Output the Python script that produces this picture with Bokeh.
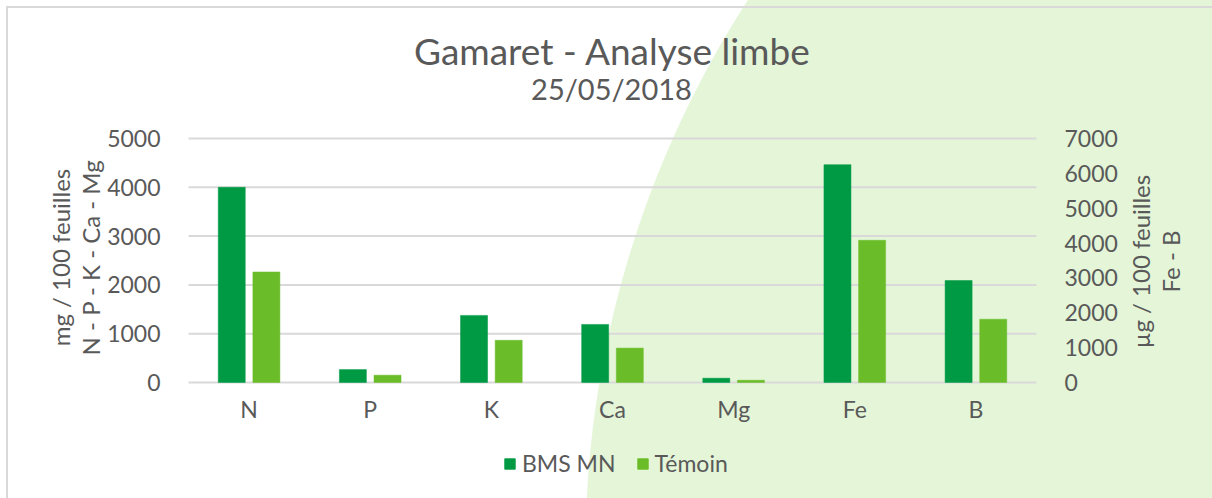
import numpy as np
from bokeh.plotting import figure
from bokeh.models import (ColumnDataSource, Range1d, LinearAxis, Legend, LegendItem,
                          FixedTicker, Label)
from bokeh.transform import dodge
from bokeh.embed import file_html
from bokeh.resources import INLINE

# ---- data ----
categories = ["N", "P", "K", "Ca", "Mg", "Fe", "B"]
bms_mn = [4000, 265, 1375, 1190, 88, 6250, 2925]
temoin = [2265, 150, 865, 705, 46, 4080, 1815]
axis_side = ["left", "left", "left", "left", "left", "right", "right"]
left_ticks = [0, 1000, 2000, 3000, 4000, 5000]
right_ticks = [0, 1000, 2000, 3000, 4000, 5000, 6000, 7000]
series_names = ["BMS MN", "Témoin"]
title_text = "Gamaret - Analyse limbe"
subtitle_text = "25/05/2018"
left_label = "mg / 100 feuilles\nN - P - K - Ca - Mg"
right_label = "µg / 100 feuilles\nFe - B"

FONT = "Lato"
GREY = "#595959"
DARK = "#009A44"
LIGHT = "#6ABD28"
PALE = "#E4F5D8"
RULE = "#D9D9D9"

# canvas geometry (pixels); the plot frame covers the whole canvas
W, H = 1212, 498
PL, PR, PT, PZ = 188, 1036, 138, 382   # plot-area left / right / top / zero row
n = len(categories)
cat_px = (PR - PL) / n
LEFT_MAX, RIGHT_MAX = left_ticks[-1], right_ticks[-1]
px_l = (PZ - PT) / LEFT_MAX
px_r = (PZ - PT) / RIGHT_MAX

bg_css = ("linear-gradient(%s,%s) 6px 6px / 2px 100%% no-repeat, "
          "linear-gradient(%s,%s) 6px 6px / 100%% 2px no-repeat, "
          "radial-gradient(circle 1013px at 1598px 550px, %s 1012px, #FFFFFF 1013px) "
          "0 0 / 100%% 100%% no-repeat, #FFFFFF") % (RULE, RULE, RULE, RULE, PALE)

p = figure(width=W, height=H,
           x_range=Range1d(-PL / cat_px, n + (W - PR) / cat_px),
           y_range=Range1d(-(H - PZ) / px_l, PZ / px_l),
           output_backend="svg", toolbar_location=None,
           min_border_left=0, min_border_right=0, min_border_top=0, min_border_bottom=0,
           background_fill_color=None, border_fill_color=None, outline_line_color=None,
           styles={"background": bg_css})
p.title.text = ""
p.title.standoff = 0
p.extra_y_ranges = {"right": Range1d(-(H - PZ) / px_r, PZ / px_r)}

left_idx = [i for i, s in enumerate(axis_side) if s == "left"]
right_idx = [i for i, s in enumerate(axis_side) if s == "right"]
src_l = ColumnDataSource(dict(pos=[i + 0.5 for i in left_idx],
                              bms=[bms_mn[i] for i in left_idx],
                              tem=[temoin[i] for i in left_idx]))
src_r = ColumnDataSource(dict(pos=[i + 0.5 for i in right_idx],
                              bms=[bms_mn[i] for i in right_idx],
                              tem=[temoin[i] for i in right_idx]))

# horizontal rules at the left-axis ticks (plot area only)
p.segment(x0=0, x1=n, y0=left_ticks, y1=left_ticks, line_color=RULE, line_width=2)

bw = 0.223
off = 0.143
r1 = p.vbar(x=dodge("pos", -off), top="bms", width=bw, source=src_l,
            fill_color=DARK, line_color=DARK, line_width=0.5)
r2 = p.vbar(x=dodge("pos", off), top="tem", width=bw, source=src_l,
            fill_color=LIGHT, line_color=LIGHT, line_width=0.5)
r3 = p.vbar(x=dodge("pos", -off), top="bms", width=bw, source=src_r,
            fill_color=DARK, line_color=DARK, line_width=0.5, y_range_name="right")
r4 = p.vbar(x=dodge("pos", off), top="tem", width=bw, source=src_r,
            fill_color=LIGHT, line_color=LIGHT, line_width=0.5, y_range_name="right")

def style_axis(ax):
    ax.axis_line_color = None
    ax.major_tick_line_color = None
    ax.minor_tick_line_color = None
    ax.major_label_text_font = FONT
    ax.major_label_text_font_size = "23px"
    ax.major_label_text_color = GREY

xa = p.xaxis[0]
style_axis(xa)
xa.ticker = FixedTicker(ticks=[i + 0.5 for i in range(n)])
xa.major_label_overrides = {i + 0.5: c for i, c in enumerate(categories)}
xa.fixed_location = 0
xa.major_label_standoff = 6

ya = p.yaxis[0]
style_axis(ya)
ya.ticker = FixedTicker(ticks=left_ticks)
ya.fixed_location = 0
ya.major_label_standoff = 22

ry = LinearAxis(y_range_name="right", ticker=FixedTicker(ticks=right_ticks))
style_axis(ry)
ry.fixed_location = n
ry.major_label_standoff = 22
p.add_layout(ry, "right")

p.xgrid.visible = False
p.ygrid.visible = False

# titles and axis titles
def add_text(text, x, y, size, angle=0.0):
    p.add_layout(Label(x=x, y=y, x_units="canvas", y_units="canvas", text=text,
                       angle=angle, text_align="center", text_baseline="middle",
                       text_font=FONT, text_font_size=size, text_color=GREY,
                       text_line_height=1.05))

add_text(title_text, 612, 50, "37px")
add_text(subtitle_text, 611, 88, "29px")
add_text(left_label, 75, 257, "24px", np.pi / 2)
add_text(right_label, 1155, 261, "24px", np.pi / 2)

legend = Legend(items=[LegendItem(label=series_names[0], renderers=[r1, r3]),
                       LegendItem(label=series_names[1], renderers=[r2, r4])],
                orientation="horizontal", location=(503, 21),
                label_text_font=FONT, label_text_font_size="23px", label_text_color=GREY,
                glyph_width=13, glyph_height=13, label_standoff=6, spacing=20,
                background_fill_alpha=0, border_line_color=None, padding=0, margin=0)
p.add_layout(legend)

open("out.html", "w").write(file_html(p, INLINE))
